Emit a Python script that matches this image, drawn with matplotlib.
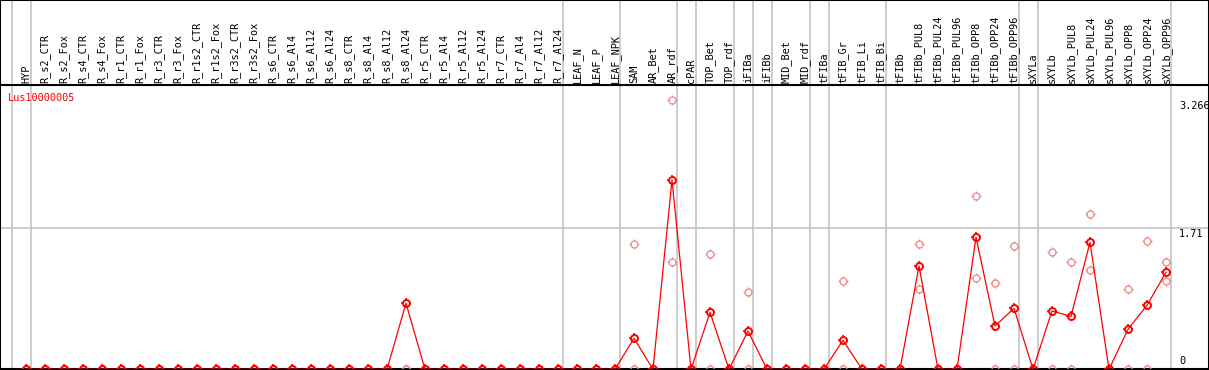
import numpy as np
import matplotlib
matplotlib.use("Agg")
import matplotlib.pyplot as plt
from matplotlib.path import Path

categories = ["HYP", "R_s2_CTR", "R_s2_Fox", "R_s4_CTR", "R_s4_Fox", "R_r1_CTR", "R_r1_Fox",
              "R_r3_CTR", "R_r3_Fox", "R_r1s2_CTR", "R_r1s2_Fox", "R_r3s2_CTR", "R_r3s2_Fox",
              "R_s6_CTR", "R_s6_Al4", "R_s6_Al12", "R_s6_Al24", "R_s8_CTR", "R_s8_Al4",
              "R_s8_Al12", "R_s8_Al24", "R_r5_CTR", "R_r5_Al4", "R_r5_Al12", "R_r5_Al24",
              "R_r7_CTR", "R_r7_Al4", "R_r7_Al12", "R_r7_Al24", "LEAF_N", "LEAF_P", "LEAF_NPK",
              "SAM", "AR_Bet", "AR_rdf", "cPAR", "TOP_Bet", "TOP_rdf", "iFIBa", "iFIBb",
              "MID_Bet", "MID_rdf", "tFIBa", "tFIB_Gr", "tFIB_Li", "tFIB_Bi", "tFIBb",
              "tFIBb_PUL8", "tFIBb_PUL24", "tFIBb_PUL96", "tFIBb_OPP8", "tFIBb_OPP24",
              "tFIBb_OPP96", "sXYLa", "sXYLb", "sXYLb_PUL8", "sXYLb_PUL24", "sXYLb_PUL96",
              "sXYLb_OPP8", "sXYLb_OPP24", "sXYLb_OPP96"]

mean_values = [0, 0, 0, 0, 0, 0, 0, 0, 0, 0, 0, 0, 0, 0, 0, 0, 0, 0, 0, 0,
               0.80, 0, 0, 0, 0, 0, 0, 0, 0, 0, 0, 0,
               0.376, 0, 2.295, 0, 0.691, 0, 0.464, 0, 0, 0, 0, 0.352, 0, 0, 0,
               1.252, 0, 0, 1.60, 0.525, 0.739, 0,
               0.707, 0.642, 1.539, 0, 0.485, 0.776, 1.176]

rep_high = [0, 0, 0, 0, 0, 0, 0, 0, 0, 0, 0, 0, 0, 0, 0, 0, 0, 0, 0, 0,
            0, 0, 0, 0, 0, 0, 0, 0, 0, 0, 0, 0,
            1.519, 0, 3.266, 0, 1.394, 0, 0.933, 0, 0, 0, 0, 1.067, 0, 0, 0,
            1.515, 0, 0, 2.097, 1.042, 1.495, 0,
            1.418, 1.297, 1.879, 0, 0.977, 1.552, 1.297]

rep_low = [0, 0, 0, 0, 0, 0, 0, 0, 0, 0, 0, 0, 0, 0, 0, 0, 0, 0, 0, 0,
           0, 0, 0, 0, 0, 0, 0, 0, 0, 0, 0, 0,
           0, 0, 1.297, 0, 0, 0, 0, 0, 0, 0, 0, 0, 0, 0, 0,
           0.970, 0, 0, 1.103, 0, 0, 0,
           0, 0, 1.2, 0, 0, 0, 1.067]

group_ends = [-1, 0, 28, 31, 34, 35, 37, 38, 39, 41, 42, 45, 52, 53, 60]
y_ticks = [0, 1.71, 3.266]
y_tick_labels = ["0", "1.71", "3.266"]
title = "Lus10000005"

# ---- layout ----
W, H, DPI = 1209, 370, 100
PX_X0, PX_STEP = 26.0, 19.0          # pixel x of first category, spacing
PX_ZERO, PX_UNIT = 369.3, 82.5        # pixel y of value 0, pixels per unit
HEADER_PX = 85.0

fig = plt.figure(figsize=(W / DPI, H / DPI), dpi=DPI)
ax = fig.add_axes([0, 0, 1, 1])
ax.set_xlim(-PX_X0 / PX_STEP, (W - PX_X0) / PX_STEP)
ax.set_ylim(-(H - PX_ZERO) / PX_UNIT, PX_ZERO / PX_UNIT)
ax.set_xticks([])
ax.set_yticks([])
for s in ax.spines.values():
    s.set_color("black")
    s.set_linewidth(1.5)
    s.set_zorder(6)

header_y = (PX_ZERO - HEADER_PX) / PX_UNIT
mono = "DejaVu Sans Mono"
grid_col = "#c4c4c4"
n = len(categories)
x = np.arange(n)

for g in group_ends:
    ax.axvline(g + 0.25, color=grid_col, lw=1.2, zorder=1)
ax.axhline(y_ticks[1], color=grid_col, lw=1.2, zorder=1)
ax.axhline(header_y, color="black", lw=1.5, zorder=5)
ax.axhline(0, color="black", lw=1.5, zorder=2)

for i, c in enumerate(categories):
    ax.text(i, header_y + 2 / PX_UNIT, c, rotation=90, ha="center", va="bottom",
            fontfamily=mono, fontsize=7.4, color="black")

# tick-only marker (four short strokes outside a circle)
ticks_v, ticks_c = [], []
for dx, dy in [(1, 0), (-1, 0), (0, 1), (0, -1)]:
    ticks_v += [(dx * 0.68, dy * 0.68), (dx * 1.0, dy * 1.0)]
    ticks_c += [Path.MOVETO, Path.LINETO]
tick_marker = Path(ticks_v, ticks_c)

pink = "#ee9090"
for reps in (rep_high, rep_low):
    ax.plot(x, reps, ls="none", marker="o", ms=5.0, mfc="none", mec=pink, mew=1.0, zorder=3)
    ax.plot(x, reps, ls="none", marker=tick_marker, ms=7.4, mec=pink, mew=1.0, zorder=3)

ax.plot(x, mean_values, color="red", lw=0.9, zorder=4)
ax.plot(x, mean_values, ls="none", marker="o", ms=5.0, mfc="none", mec="red", mew=1.4, zorder=4)
ax.plot(x, mean_values, ls="none", marker=tick_marker, ms=7.4, mec="red", mew=1.2, zorder=4)

lab_x = n - 1 + (1179 - (PX_X0 + (n - 1) * PX_STEP)) / PX_STEP
for v, t in zip(y_ticks, y_tick_labels):
    if v == 0:
        ax.text(lab_x, v + 3 / PX_UNIT, t, ha="left", va="bottom", fontfamily=mono, fontsize=7.4)
    else:
        ax.text(lab_x, v - 1 / PX_UNIT, t, ha="left", va="top", fontfamily=mono, fontsize=7.4)

fig.text(8 / W, 1 - 98 / H, title, ha="left", va="center", color="red",
         fontfamily=mono, fontsize=7.4)

fig.savefig("out.png", dpi=DPI)
